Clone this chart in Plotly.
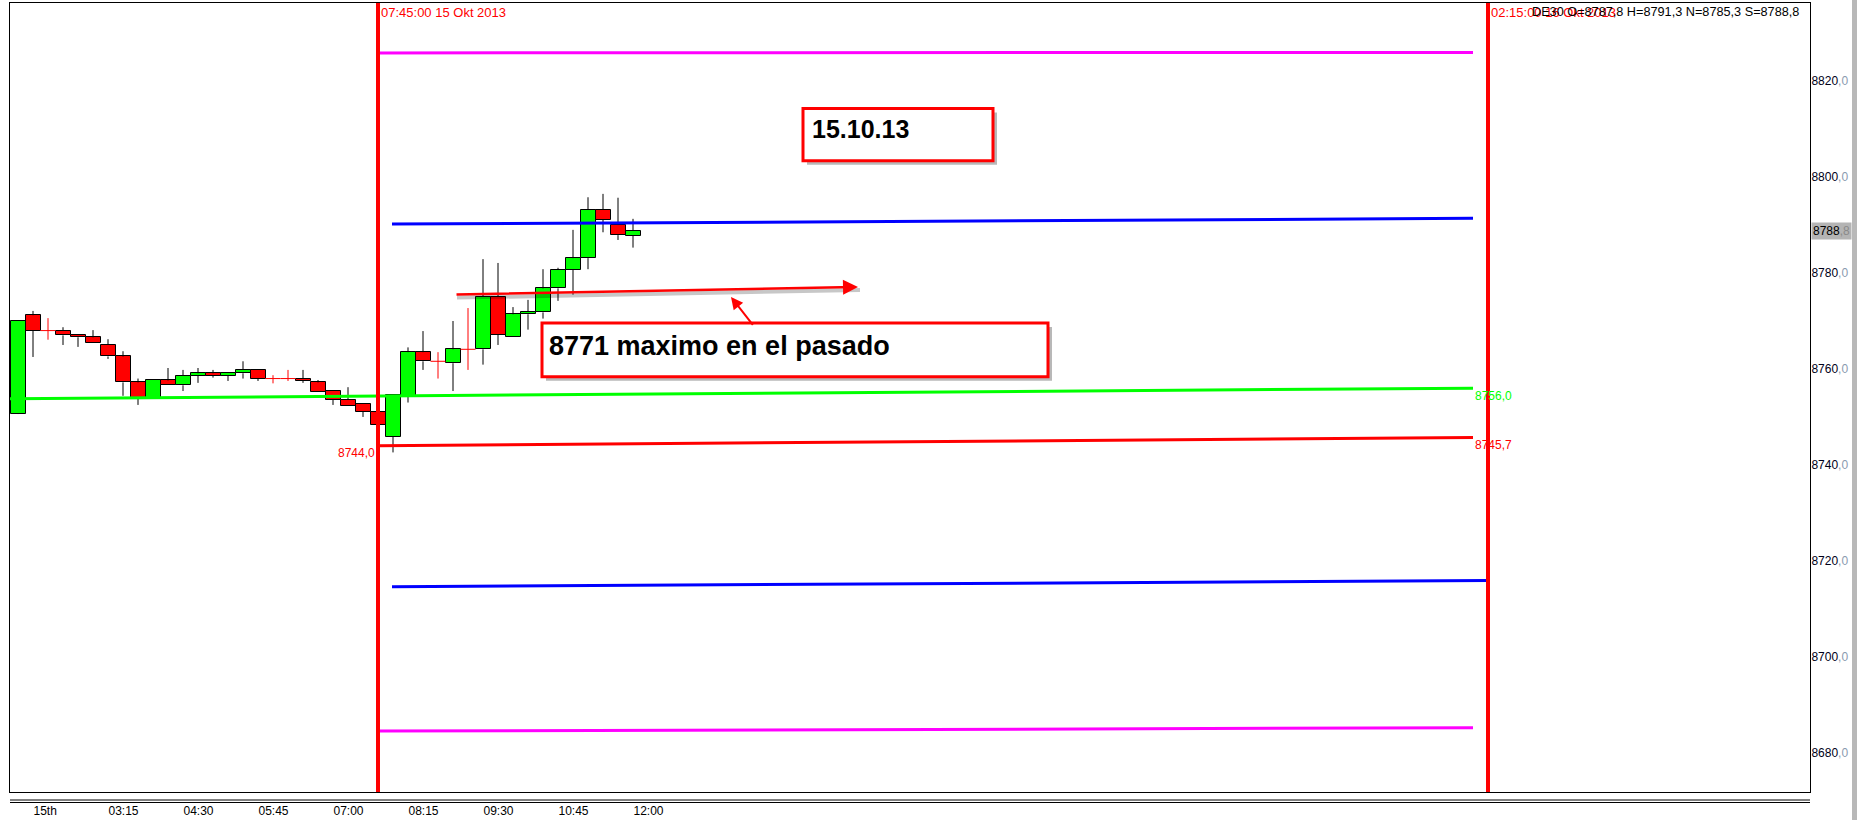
import plotly.graph_objects as go
import pandas as pd

# ---------------- data ----------------
times = pd.date_range("2013-10-15 01:45", "2013-10-15 12:00", freq="15min")
opens = [8750.7, 8771.2, 8768.0, 8768.0, 8767.0, 8766.6, 8765.1, 8762.6, 8757.2, 8754.0,
         8757.6, 8756.6, 8758.6, 8759.1, 8758.6, 8759.1, 8759.8, 8758.0, 8758.0, 8758.0,
         8757.2, 8755.5, 8753.6, 8752.6, 8751.1, 8745.9, 8754.4, 8763.5, 8761.6, 8761.2,
         8764.1, 8764.1, 8775.1, 8766.6, 8771.4, 8771.8, 8776.8, 8780.7, 8783.1, 8793.2,
         8790.0, 8787.8]
highs = [8770.2, 8772.1, 8770.6, 8768.7, 8767.0, 8768.1, 8766.2, 8763.7, 8758.0, 8757.6,
         8760.2, 8759.8, 8760.2, 8759.8, 8759.1, 8761.6, 8759.8, 8758.7, 8759.8, 8759.8,
         8757.7, 8755.5, 8756.2, 8752.6, 8751.1, 8754.6, 8764.5, 8767.9, 8763.5, 8770.0,
         8772.7, 8782.9, 8782.1, 8772.9, 8774.4, 8780.8, 8781.1, 8789.0, 8795.8, 8796.5,
         8795.7, 8791.3]
lows = [8750.6, 8762.5, 8766.1, 8765.0, 8764.6, 8765.5, 8762.1, 8754.4, 8752.5, 8754.0,
        8756.6, 8755.4, 8757.1, 8758.2, 8757.5, 8758.0, 8757.5, 8757.0, 8757.5, 8757.1,
        8755.1, 8752.5, 8752.2, 8750.0, 8748.3, 8742.6, 8753.0, 8759.8, 8758.0, 8755.4,
        8759.8, 8760.9, 8765.0, 8766.6, 8768.2, 8770.5, 8774.2, 8775.5, 8780.8, 8788.5,
        8786.9, 8785.3]
closes = [8770.1, 8768.0, 8768.0, 8767.0, 8766.6, 8765.5, 8762.6, 8757.2, 8754.0, 8757.6,
          8756.6, 8758.6, 8759.1, 8758.6, 8759.1, 8759.8, 8758.0, 8758.0, 8758.0, 8757.5,
          8755.1, 8753.6, 8752.2, 8751.1, 8748.3, 8754.5, 8763.5, 8761.6, 8761.6, 8764.1,
          8764.1, 8775.1, 8767.1, 8771.4, 8771.9, 8776.8, 8780.7, 8783.1, 8793.2, 8791.1,
          8787.9, 8788.8]

# indicator levels (start/end)
green_x = ["2013-10-15 01:37", "2013-10-16 02:00"]
green_y = [8753.8, 8756.0]
red_x = ["2013-10-15 07:45", "2013-10-16 02:00"]
red_y = [8744.0, 8745.7]
blue_up_x = ["2013-10-15 07:59", "2013-10-16 02:00"]
blue_up_y = [8790.2, 8791.4]
blue_lo_x = ["2013-10-15 07:59", "2013-10-16 02:15"]
blue_lo_y = [8714.6, 8715.9]
mag_up_x = ["2013-10-15 07:45", "2013-10-16 02:00"]
mag_up_y = [8825.9, 8826.0]
mag_lo_x = ["2013-10-15 07:45", "2013-10-16 02:00"]
mag_lo_y = [8684.5, 8685.2]
session_marks = ["2013-10-15 07:45", "2013-10-16 02:15"]

# hand-drawn arrow line (tail -> head)
arrow_x = ["2013-10-15 09:02", "2013-10-15 15:45"]
arrow_y = [8775.5, 8777.1]

xtick_vals = ["2013-10-15 02:00", "2013-10-15 03:15", "2013-10-15 04:30", "2013-10-15 05:45",
              "2013-10-15 07:00", "2013-10-15 08:15", "2013-10-15 09:30", "2013-10-15 10:45",
              "2013-10-15 12:00"]
xtick_text = ["15th", "03:15", "04:30", "05:45", "07:00", "08:15", "09:30", "10:45", "12:00"]
ytick_vals = [8680, 8700, 8720, 8740, 8760, 8780, 8800, 8820]

x_range = ["2013-10-15 01:37", "2013-10-16 07:37"]
y_range = [8671.8, 8836.3]

# ---------------- figure ----------------
W, H = 1857, 820
ML, MR, MT, MB = 10, 47, 3, 28
PH = H - MT - MB
PX_PER_PT = PH / (y_range[1] - y_range[0])
FONT = "Liberation Sans, Arial, sans-serif"
GREEN = "#00ff00"
RED = "#ff0000"
half = pd.Timedelta(minutes=7.5)

fig = go.Figure()

# bodies
bx, bb, bh, bc = [], [], [], []
for t, o, c in zip(times, opens, closes):
    if o == c:
        continue
    bx.append(t)
    bb.append(min(o, c))
    bh.append(abs(c - o))
    bc.append(GREEN if c > o else RED)
fig.add_trace(go.Bar(x=bx, y=bh, base=bb, width=900000,
                     marker=dict(color=bc, line=dict(color="black", width=1)),
                     hoverinfo="skip", showlegend=False))

# wicks (outside body only)
wx, wy = [], []
dx, dy = [], []
for t, o, h, l, c in zip(times, opens, highs, lows, closes):
    top, bot = max(o, c), min(o, c)
    if o == c:
        dx += [t, t, None, t - half, t + half, None]
        dy += [l, h, None, o, o, None]
        continue
    if h > top:
        wx += [t, t, None]
        wy += [top, h, None]
    if l < bot:
        wx += [t, t, None]
        wy += [bot, l, None]
fig.add_trace(go.Scatter(x=wx, y=wy, mode="lines", line=dict(color="black", width=1),
                         hoverinfo="skip", showlegend=False))
fig.add_trace(go.Scatter(x=dx, y=dy, mode="lines", line=dict(color=RED, width=1),
                         hoverinfo="skip", showlegend=False))

# levels
for xs, ys, col in [(green_x, green_y, GREEN), (red_x, red_y, RED),
                    (blue_up_x, blue_up_y, "#0000ff"), (blue_lo_x, blue_lo_y, "#0000ff"),
                    (mag_up_x, mag_up_y, "#ff00ff"), (mag_lo_x, mag_lo_y, "#ff00ff")]:
    fig.add_trace(go.Scatter(x=xs, y=ys, mode="lines", line=dict(color=col, width=3),
                             hoverinfo="skip", showlegend=False))

# soft shadow under the hand-drawn arrow line
fig.add_trace(go.Scatter(x=[pd.Timestamp(v) + pd.Timedelta(minutes=2) for v in arrow_x],
                         y=[v - 3 / PX_PER_PT for v in arrow_y], mode="lines",
                         line=dict(color="rgba(0,0,0,0.22)", width=4),
                         hoverinfo="skip", showlegend=False))

# session vertical lines
for t in session_marks:
    fig.add_trace(go.Scatter(x=[t, t], y=y_range, mode="lines", line=dict(color=RED, width=4),
                             hoverinfo="skip", showlegend=False, cliponaxis=True))

shapes = []
annotations = []

# drawn boxes with shadow
def box(x0, x1, y0, y1):
    sx = pd.Timedelta(minutes=4)
    sy = 4 / PX_PER_PT
    shapes.append(dict(type="rect", xref="x", yref="y",
                       x0=pd.Timestamp(x0) + sx, x1=pd.Timestamp(x1) + sx,
                       y0=y0 - sy, y1=y1 - sy, line=dict(width=0),
                       fillcolor="rgba(0,0,0,0.28)", layer="above"))
    shapes.append(dict(type="rect", xref="x", yref="y", x0=x0, x1=x1, y0=y0, y1=y1,
                       line=dict(color=RED, width=3), fillcolor="white", layer="above"))

box("2013-10-15 14:50", "2013-10-15 18:00", 8803.4, 8814.3)
box("2013-10-15 10:29", "2013-10-15 18:55", 8758.4, 8769.6)

annotations.append(dict(x="2013-10-15 14:57", y=8810.0, xref="x", yref="y", text="<b>15.10.13</b>",
                        showarrow=False, xanchor="left", yanchor="middle",
                        font=dict(family=FONT, size=25, color="black")))
annotations.append(dict(x="2013-10-15 10:34", y=8764.8, xref="x", yref="y",
                        text="<b>8771 maximo en el pasado</b>",
                        showarrow=False, xanchor="left", yanchor="middle",
                        font=dict(family=FONT, size=27, color="black")))

# arrows
annotations.append(dict(x=arrow_x[1], y=arrow_y[1], ax=arrow_x[0], ay=arrow_y[0],
                        xref="x", yref="y", axref="x", ayref="y", text="", showarrow=True,
                        arrowhead=2, arrowsize=1.2, arrowwidth=2.5, arrowcolor=RED))
annotations.append(dict(x="2013-10-15 13:38", y=8775.0, ax="2013-10-15 14:01", ay=8768.9,
                        xref="x", yref="y", axref="x", ayref="y", text="", showarrow=True,
                        arrowhead=2, arrowsize=1.2, arrowwidth=2, arrowcolor=RED))

# small labels
annotations.append(dict(x="2013-10-15 07:44", y=8742.4, xref="x", yref="y", text="8744,0",
                        showarrow=False, xanchor="right", yanchor="middle",
                        font=dict(family=FONT, size=12, color=RED)))
annotations.append(dict(x="2013-10-16 02:00", y=8754.4, xref="x", yref="y", text="8756,0",
                        showarrow=False, xanchor="left", yanchor="middle",
                        font=dict(family=FONT, size=12, color=GREEN)))
annotations.append(dict(x="2013-10-16 02:00", y=8744.1, xref="x", yref="y", text="8745,7",
                        showarrow=False, xanchor="left", yanchor="middle",
                        font=dict(family=FONT, size=12, color=RED)))
annotations.append(dict(x="2013-10-15 07:46", y=1, xref="x", yref="paper",
                        text="07:45:00 15 Okt 2013", showarrow=False, xanchor="left",
                        yanchor="top", font=dict(family=FONT, size=13, color=RED)))
annotations.append(dict(x="2013-10-16 02:16", y=1, xref="x", yref="paper",
                        text="02:15:00 16 Okt 2013", showarrow=False, xanchor="left",
                        yanchor="top", font=dict(family=FONT, size=13, color=RED)))
annotations.append(dict(x="2013-10-16 02:57", y=1, xref="x", yref="paper",
                        text="DE30 O=8787,8 H=8791,3 N=8785,3 S=8788,8", showarrow=False,
                        xanchor="left", yanchor="top",
                        font=dict(family=FONT, size=12.7, color="black")))
# last price marker on axis
annotations.append(dict(x=1, y=closes[-1], xref="paper", yref="y", xshift=1,
                        text='8788<span style="color:#8a8a8a">,8</span>', showarrow=False,
                        xanchor="left", yanchor="middle", bgcolor="#b4b4b4", borderpad=1,
                        align="left",
                        font=dict(family=FONT, size=12, color="black")))

# double rule under plot and right grey band
for ypx in (800, 802.5):
    yp = (H - MB - ypx) / PH
    shapes.append(dict(type="line", xref="paper", yref="paper", x0=0, x1=1, y0=yp, y1=yp,
                       line=dict(color="black", width=1)))
gx0 = (1852 - ML) / (W - ML - MR)
gx1 = (1858 - ML) / (W - ML - MR)
shapes.append(dict(type="rect", xref="paper", yref="paper", x0=gx0, x1=gx1,
                   y0=(H - MB - H) / PH, y1=(H - MB) / PH, line=dict(width=0),
                   fillcolor="#b8b8b8", layer="below"))

ytick_text = [f'{v}<span style="color:#8a9ab0">,0</span>' for v in ytick_vals]

fig.update_layout(
    width=W, height=H, margin=dict(l=ML, r=MR, t=MT, b=MB, autoexpand=False),
    paper_bgcolor="white", plot_bgcolor="white",
    showlegend=False, shapes=shapes, annotations=annotations,
    xaxis=dict(type="date", range=x_range, showgrid=False, zeroline=False, automargin=False,
               showline=True, mirror=True, linecolor="black", linewidth=1,
               tickvals=xtick_vals, ticktext=xtick_text, ticks="",
               ticklabelposition="outside right", ticklabelstandoff=8, ticklabelshift=0,
               tickfont=dict(family=FONT, size=12, color="black"), fixedrange=True),
    yaxis=dict(range=y_range, side="right", showgrid=False, zeroline=False, automargin=False,
               showline=True, mirror=True, linecolor="black", linewidth=1,
               tickvals=ytick_vals, ticktext=ytick_text, ticks="", ticklabelstandoff=-2,
               tickfont=dict(family=FONT, size=12, color="#000018"), fixedrange=True),
    bargap=0,
)

fig.write_html("out.html", config={"displayModeBar": False},
               post_script="document.body.style.margin='0px';document.body.style.overflow='hidden';")
